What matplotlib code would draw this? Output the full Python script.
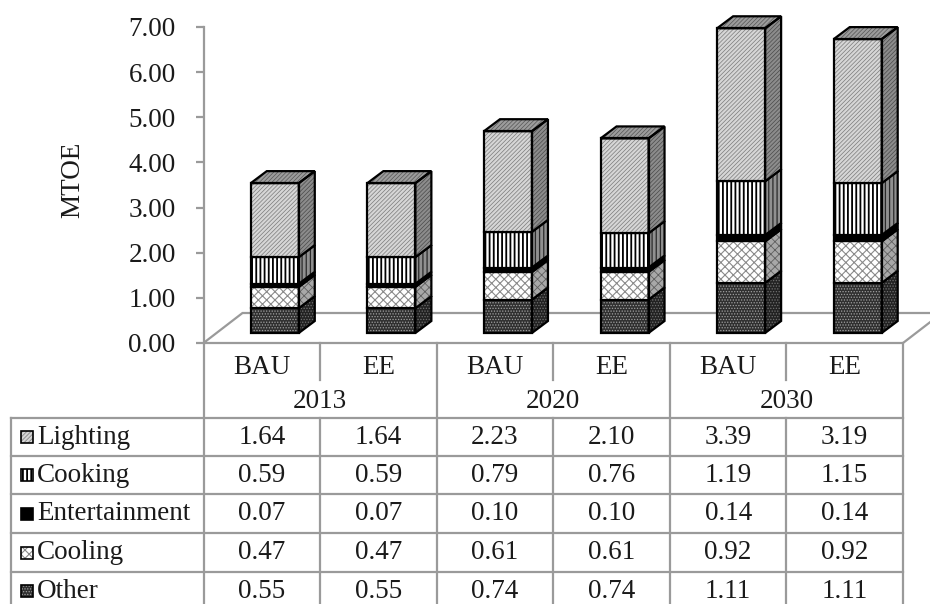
import numpy as np
import matplotlib as mpl
mpl.use('agg')
import matplotlib.pyplot as plt
import matplotlib.transforms as mtransforms
from matplotlib.patches import Polygon
from matplotlib.lines import Line2D

years     = ['2013', '2020', '2030']
scenarios = ['BAU', 'EE', 'BAU', 'EE', 'BAU', 'EE']
# stack order, bottom to top
other         = [0.55, 0.55, 0.74, 0.74, 1.11, 1.11]
cooling       = [0.47, 0.47, 0.61, 0.61, 0.92, 0.92]
entertainment = [0.07, 0.07, 0.10, 0.10, 0.14, 0.14]
cooking       = [0.59, 0.59, 0.79, 0.76, 1.19, 1.15]
lighting      = [1.64, 1.64, 2.23, 2.10, 3.39, 3.19]
stack_names   = ['Other', 'Cooling', 'Entertainment', 'Cooking', 'Lighting']
stack_values  = [other, cooling, entertainment, cooking, lighting]
yticks = np.arange(0, 7.01, 1.0)

# (face, hatch, hatch colour, hatch width) for front / side / top of each series
styles = {
    'Other':         dict(front=('#303030', '......', '#a0a0a0', 0.6), side=('#222222', '......', '#707070', 0.6),
                          top=('#444444', '......', '#999999', 0.6)),
    'Cooling':       dict(front=('#ffffff', 'xxxx', '#8a8a8a', 0.8), side=('#a8a8a8', 'xxxx', '#606060', 0.6),
                          top=('#cccccc', 'xxxx', '#777777', 0.6)),
    'Entertainment': dict(front=('#000000', None, '#000000', 0.6), side=('#000000', None, '#000000', 0.6),
                          top=('#000000', None, '#000000', 0.6)),
    'Cooking':       dict(front=('#ffffff', '||||', '#000000', 1.3), side=('#909090', '||||', '#2a2a2a', 0.9),
                          top=('#999999', '||||', '#333333', 0.9)),
    'Lighting':      dict(front=('#d6d6d6', '////////', '#7a7a7a', 0.5), side=('#8c8c8c', '////////', '#4a4a4a', 0.5),
                          top=('#9c9c9c', '////////', '#555555', 0.5)),
}

W, H = 930, 604
gray = '#9a9a9a'
ink = '#1a1a1a'
plt.rcParams['font.family'] = ['Liberation Serif', 'DejaVu Serif']
fs = 19.5

fig = plt.figure(figsize=(W/100, H/100), dpi=100)
ax = fig.add_axes([203.5/W, 1-343/H, (903-203.5)/W, (343-27)/H])
ax.set_xlim(0, 6)
ax.set_ylim(0, 7)

# pixel sizes of one data unit
sx = (903-203.5)/6.
sy = (343-27)/7.

# 3d offsets (px -> data)
fx, fy = 39/sx, 30/sy        # floor depth
ox, oy = 13/sx, 10/sy        # bar front plane
dx, dy = 16/sx, 12/sy        # bar depth
bw = 48/sx

def hatched(xy, style, **kw):
    fc, hatch, hc, hw = style
    with mpl.rc_context({'hatch.linewidth': hw}):
        p = Polygon(xy, closed=True, facecolor=fc, edgecolor=hc, hatch=hatch, lw=0, **kw)
    return p

def face(xy, style, z):
    ax.add_patch(hatched(xy, style, zorder=z, clip_on=False))
    ax.add_patch(Polygon(xy, closed=True, fill=False, edgecolor='black', lw=1.6,
                         joinstyle='miter', zorder=z+0.1, clip_on=False))

# floor
ax.add_patch(Polygon([(0, 0), (6, 0), (6+fx, fy), (fx, fy)], closed=True, fill=False,
                     edgecolor=gray, lw=1.6, zorder=1, clip_on=False))

# stacked 3d columns
for i in range(len(scenarios)):
    x0 = i + 0.5 - bw/2 + ox
    x1 = x0 + bw
    base = oy
    for k, name in enumerate(stack_names):
        v = stack_values[k][i]
        y0, y1 = base, base + v
        st = styles[name]
        z = 3 + i*10 + k
        face([(x0, y0), (x1, y0), (x1, y1), (x0, y1)], st['front'], z)
        face([(x1, y0), (x1+dx, y0+dy), (x1+dx, y1+dy), (x1, y1)], st['side'], z)
        if k == len(stack_names) - 1:
            face([(x0, y1), (x0+dx, y1+dy), (x1+dx, y1+dy), (x1, y1)], st['top'], z)
        base = y1

# value axis
for s in ['top', 'right', 'bottom']:
    ax.spines[s].set_visible(False)
ax.spines['left'].set_color(gray)
ax.spines['left'].set_linewidth(1.6)
ax.set_xticks([])
ax.set_yticks(yticks)
ax.set_yticklabels([f'{t:.2f}' for t in yticks], fontsize=fs, color=ink)
ax.tick_params(axis='y', length=6, width=1.6, color=gray, pad=14)
ax.set_ylabel('MTOE', fontsize=fs, color=ink)
ax.yaxis.set_label_coords((85-203.5)/(903-203.5), (343-180)/(343-27))
ax.patch.set_visible(False)

# data table below the plot
pxT = mtransforms.Affine2D().scale(1, -1).translate(0, H)
colT = mtransforms.blended_transform_factory(ax.transData, pxT)

def hline(y, x0, x1):
    fig.add_artist(Line2D([x0, x1], [y, y], transform=pxT, color=gray, lw=1.6))

def vline(x, y0, y1):
    fig.add_artist(Line2D([x, x], [y0, y1], transform=colT, color=gray, lw=1.6))

row_edges = [418, 456, 494, 533, 572, 610]
for y in row_edges[:-1]:
    hline(y, 11, 903)
fig.add_artist(Line2D([11, 11], [418, H+5], transform=pxT, color=gray, lw=1.6))
for c in range(7):
    if c % 2 == 0:
        vline(c, 343, H+5)
    else:
        vline(c, 343, 380)
        vline(c, 418, H+5)

for i, s in enumerate(scenarios):
    fig.text(i + 0.5, 367, s, transform=colT, ha='center', va='center', fontsize=fs, color=ink)
for j, yr in enumerate(years):
    fig.text(2*j + 1, 402, yr, transform=colT, ha='center', va='center', fontsize=fs, color=ink)

table_rows = stack_names[::-1]
for r, name in enumerate(table_rows):
    yc = (row_edges[r] + row_edges[r+1]) / 2
    vals = stack_values[stack_names.index(name)]
    for i, v in enumerate(vals):
        fig.text(i + 0.5, yc, f'{v:.2f}', transform=colT, ha='center', va='center',
                 fontsize=fs, color=ink)
    fig.text(37, yc, name, transform=pxT, ha='left', va='center', fontsize=fs, color=ink)
    # legend key
    key = [(21, yc-6), (33, yc-6), (33, yc+6), (21, yc+6)]
    fig.add_artist(hatched(key, styles[name]['front'], transform=pxT))
    fig.add_artist(Polygon(key, closed=True, fill=False, edgecolor='black', lw=1.2, transform=pxT))

fig.savefig('out.png', dpi=100, facecolor='white')
